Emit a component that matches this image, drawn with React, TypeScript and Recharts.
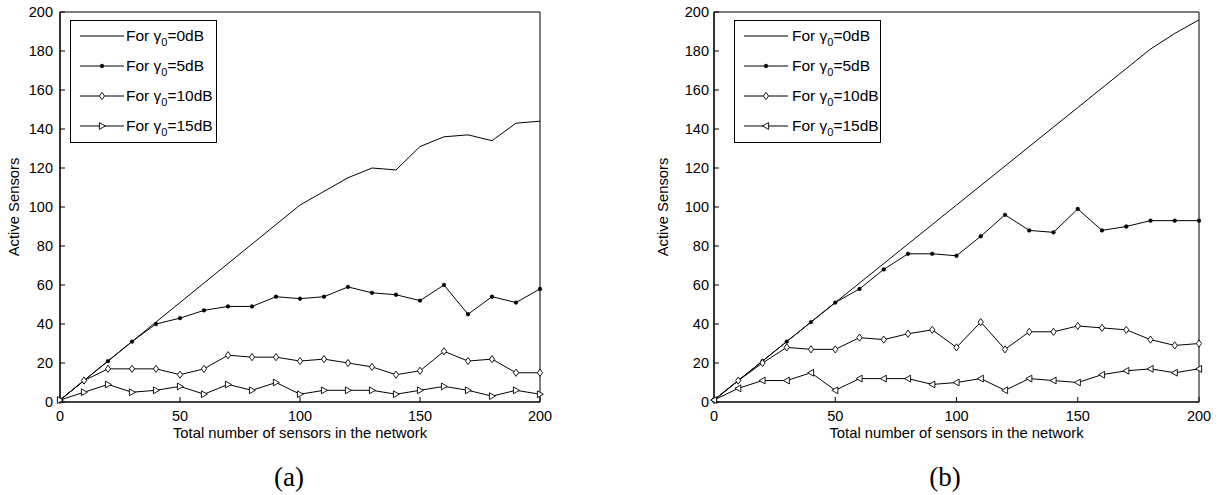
import React from 'react';
import { LineChart, Line, XAxis, YAxis, Legend } from 'recharts';

const FONT = '"Liberation Sans", Arial, Helvetica, sans-serif';
const SERIF = '"Liberation Serif", "Times New Roman", serif';

const xValues = [0, 10, 20, 30, 40, 50, 60, 70, 80, 90, 100, 110, 120, 130, 140, 150, 160, 170, 180, 190, 200];
const xTicks = [0, 50, 100, 150, 200];
const yTicks = [0, 20, 40, 60, 80, 100, 120, 140, 160, 180, 200];
const legendLevels = ['0dB', '5dB', '10dB', '15dB'];
const xLabel = 'Total number of sensors in the network';
const yLabel = 'Active Sensors';

// Panel (a)
const a0dB = [1, 11, 21, 31, 41, 51, 61, 71, 81, 91, 101, 108, 115, 120, 119, 131, 136, 137, 134, 143, 144];
const a5dB = [1, 11, 21, 31, 40, 43, 47, 49, 49, 54, 53, 54, 59, 56, 55, 52, 60, 45, 54, 51, 58];
const a10dB = [1, 11, 17, 17, 17, 14, 17, 24, 23, 23, 21, 22, 20, 18, 14, 16, 26, 21, 22, 15, 15];
const a15dB = [1, 5, 9, 5, 6, 8, 4, 9, 6, 10, 4, 6, 6, 6, 4, 6, 8, 6, 3, 6, 4];

// Panel (b)
const b0dB = [1, 11, 21, 31, 41, 51, 61, 71, 81, 91, 101, 111, 121, 131, 141, 151, 161, 171, 181, 189, 196];
const b5dB = [1, 11, 21, 31, 41, 51, 58, 68, 76, 76, 75, 85, 96, 88, 87, 99, 88, 90, 93, 93, 93];
const b10dB = [1, 11, 20, 28, 27, 27, 33, 32, 35, 37, 28, 41, 27, 36, 36, 39, 38, 37, 32, 29, 30];
const b15dB = [1, 7, 11, 11, 15, 6, 12, 12, 12, 9, 10, 12, 6, 12, 11, 10, 14, 16, 17, 15, 17];

type Kind = 'none' | 'dot' | 'diamond' | 'triRight' | 'triLeft';

const buildRows = (s0: number[], s5: number[], s10: number[], s15: number[]) =>
  xValues.map((x, i) => ({ x, s0: s0[i], s5: s5[i], s10: s10[i], s15: s15[i] }));

const dataA = buildRows(a0dB, a5dB, a10dB, a15dB);
const dataB = buildRows(b0dB, b5dB, b10dB, b15dB);

function marker(kind: Kind, cx: number, cy: number, key?: string) {
  if (cx == null || cy == null || isNaN(cx) || isNaN(cy)) return <g key={key} />;
  switch (kind) {
    case 'dot':
      return <circle key={key} cx={cx} cy={cy} r={1.9} fill="#000" stroke="#000" strokeWidth={0.4} />;
    case 'diamond':
      return (
        <path key={key} d={`M${cx},${cy - 3.6}L${cx + 2.6},${cy}L${cx},${cy + 3.6}L${cx - 2.6},${cy}Z`}
          fill="#fff" stroke="#000" strokeWidth={0.9} />
      );
    case 'triRight':
      return (
        <path key={key} d={`M${cx - 2.6},${cy - 3.4}L${cx + 3.4},${cy}L${cx - 2.6},${cy + 3.4}Z`}
          fill="#fff" stroke="#000" strokeWidth={0.9} />
      );
    case 'triLeft':
      return (
        <path key={key} d={`M${cx + 2.6},${cy - 3.4}L${cx - 3.4},${cy}L${cx + 2.6},${cy + 3.4}Z`}
          fill="#fff" stroke="#000" strokeWidth={0.9} />
      );
    default:
      return <g key={key} />;
  }
}

const seriesKeys = ['s0', 's5', 's10', 's15'];

function LegendBox({ kinds, textGap }: { kinds: Kind[]; textGap: number }) {
  return (
    <div
      style={{
        boxSizing: 'border-box',
        width: 147,
        height: 123,
        border: '1px solid #000',
        background: '#fff',
        paddingLeft: 9,
        fontFamily: FONT,
        fontSize: 15.5,
        color: '#000',
        lineHeight: 'normal',
      }}
    >
      {legendLevels.map((lvl, i) => (
        <div key={lvl} style={{ height: 30, display: 'flex', alignItems: 'center' }}>
          <svg width={44} height={10} style={{ display: 'block', flex: 'none' }}>
            <line x1={0} y1={5} x2={44} y2={5} stroke="#000" strokeWidth={1} />
            {marker(kinds[i], 22, 5)}
          </svg>
          <span style={{ marginLeft: textGap, whiteSpace: 'nowrap' }}>
            For γ<sub style={{ fontSize: 11, verticalAlign: '-5px', lineHeight: 0 }}>0</sub>={lvl}
          </span>
        </div>
      ))}
    </div>
  );
}

interface PanelProps {
  left: number;
  width: number;
  data: any[];
  kinds: Kind[];
  axisWidth: number;
  marginRight: number;
  yLabelX: number;
  tickMarginY: number;
  legendLeft: number;
  textGap: number;
}

function Panel(p: PanelProps) {
  const tickStyle = { fill: '#000', fontSize: 14.5, fontFamily: FONT };
  return (
    <div style={{ position: 'absolute', left: p.left, top: 0, width: p.width, height: 495 }}>
      <LineChart width={p.width} height={495} data={p.data} margin={{ top: 11, right: p.marginRight, bottom: 53, left: 0 }}>
        <XAxis
          xAxisId="b"
          dataKey="x"
          type="number"
          domain={[0, 200]}
          ticks={xTicks}
          interval={0}
          height={40}
          tickSize={-5}
          tickMargin={14}
          tick={tickStyle}
          axisLine={{ stroke: '#000', strokeWidth: 1.6 }}
          tickLine={{ stroke: '#000', strokeWidth: 1 }}
          label={{ value: xLabel, position: 'insideBottom', offset: 4, fill: '#000', fontSize: 14.8, fontFamily: FONT }}
        />
        <XAxis
          xAxisId="t"
          orientation="top"
          dataKey="x"
          type="number"
          domain={[0, 200]}
          ticks={xTicks}
          interval={0}
          height={1}
          tickSize={-5}
          tick={false}
          axisLine={{ stroke: '#000', strokeWidth: 1 }}
          tickLine={{ stroke: '#000', strokeWidth: 1 }}
        />
        <YAxis
          yAxisId="l"
          type="number"
          domain={[0, 200]}
          ticks={yTicks}
          interval={0}
          width={p.axisWidth}
          tickSize={-5}
          tickMargin={p.tickMarginY}
          tick={tickStyle}
          axisLine={{ stroke: '#000', strokeWidth: 1.6 }}
          tickLine={{ stroke: '#000', strokeWidth: 1 }}
          label={{
            value: yLabel,
            content: (lp: any) => {
              const vb = lp.viewBox || { x: 0, y: 12, width: p.axisWidth, height: 390 };
              const cx = vb.x + p.yLabelX;
              const cy = vb.y + vb.height / 2;
              return (
                <text x={cx} y={cy} transform={`rotate(-90 ${cx} ${cy})`} textAnchor="middle" fill="#000"
                  fontSize={14.8} fontFamily={FONT}>
                  {yLabel}
                </text>
              );
            },
          }}
        />
        <YAxis
          yAxisId="r"
          orientation="right"
          type="number"
          domain={[0, 200]}
          ticks={yTicks}
          interval={0}
          width={1}
          tickSize={-5}
          tick={false}
          axisLine={{ stroke: '#000', strokeWidth: 1 }}
          tickLine={{ stroke: '#000', strokeWidth: 1 }}
        />
        {seriesKeys.map((k, i) => (
          <Line
            key={k}
            xAxisId="b"
            yAxisId="l"
            dataKey={k}
            type="linear"
            stroke="#000"
            strokeWidth={1}
            isAnimationActive={false}
            activeDot={false}
            dot={p.kinds[i] === 'none' ? false : (dp: any) => marker(p.kinds[i], dp.cx, dp.cy, `${k}-${dp.index}`)}
          />
        ))}
        <Legend
          layout="horizontal"
          verticalAlign="middle"
          align="center"
          wrapperStyle={{ left: p.legendLeft, top: 20, width: 'auto', height: 'auto' }}
          content={() => <LegendBox kinds={p.kinds} textGap={p.textGap} />}
        />
      </LineChart>
    </div>
  );
}

export default function App() {
  return (
    <div style={{ position: 'absolute', left: 0, top: 0, width: 1219, height: 495, background: '#fff', overflow: 'hidden' }}>
      <Panel left={0} width={600} data={dataA} kinds={['none', 'dot', 'diamond', 'triRight']}
        axisWidth={60} marginRight={59} yLabelX={18.5} tickMarginY={12} legendLeft={70} textGap={2} />
      <Panel left={610} width={609} data={dataB} kinds={['none', 'dot', 'diamond', 'triLeft']}
        axisWidth={104} marginRight={19} yLabelX={58} tickMarginY={10} legendLeft={124} textGap={4} />
      <svg width={1219} height={495} style={{ position: 'absolute', left: 0, top: 0, pointerEvents: 'none' }}>
        <text x={289} y={486} textAnchor="middle" fontFamily={SERIF} fontSize={27} fill="#000">(a)</text>
        <text x={945} y={486} textAnchor="middle" fontFamily={SERIF} fontSize={27} fill="#000">(b)</text>
      </svg>
    </div>
  );
}
